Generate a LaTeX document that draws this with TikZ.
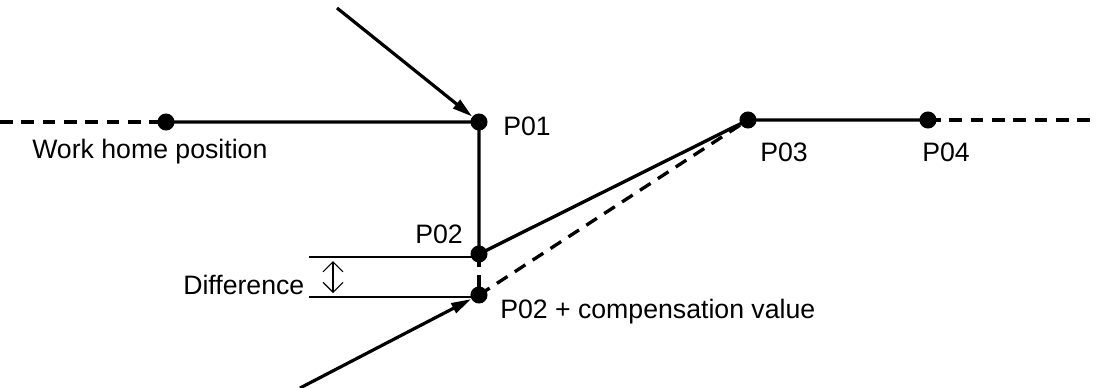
\documentclass[tikz,border=0pt]{standalone}
\usepackage{fontspec}
\setmainfont{Liberation Sans}
\usetikzlibrary{arrows.meta}
\begin{document}
\begin{tikzpicture}[x=0.75pt,y=-0.75pt,
  pt/.style={circle,fill=black,inner sep=0pt,minimum size=12.8pt},
  path/.style={line width=2.5pt},
  dashpath/.style={line width=2.5pt,dash pattern=on 9.5pt off 6.5pt},
  guide/.style={line width=0.9pt},
  lbl/.style={anchor=base west,inner sep=0pt,font=\fontsize{20}{24}\selectfont},
  feed/.style={line width=2.4pt,-{Triangle[length=15pt,width=8pt]}},
  gap/.style={line width=0.8pt,{Straight Barb[length=7.5pt,width=15pt]}-{Straight Barb[length=7.5pt,width=15pt]}}]
\useasboundingbox (0,0) rectangle (1096,387);

% path points
\node[pt] (home) at (166,122) {};
\node[pt] (p01)  at (479,122) {};
\node[pt] (p02)  at (479,254) {};
\node[pt] (p02c) at (479,295) {};
\node[pt] (p03)  at (748,120) {};
\node[pt] (p04)  at (928,120) {};
\coordinate (lft) at (0,122);
\coordinate (rgt) at (1096,120);
\coordinate (in1) at (337,8);
\coordinate (in2) at (300,388);
\coordinate (g1a) at (309,257);
\coordinate (g1b) at (479,257);
\coordinate (g2a) at (309,297);
\coordinate (g2b) at (479,297);
\coordinate (dt) at (333,261);
\coordinate (db) at (333,293);

% nominal path
\draw[dashpath] (lft) -- (home.center);
\draw[path] (home.center) -- (p01.center) -- (p02.center) -- (p03.center) -- (p04.center);
\draw[dashpath] (p04.center) -- (rgt);

% compensated path
\draw[dashpath] (p02.center) -- (p02c.center);
\draw[dashpath] (p02c.center) -- (p03.center);

% approach arrows
\draw[feed] (in1) -- (p01);
\draw[feed] (in2) -- (p02c);

% difference dimension
\draw[guide] (g1a) -- (g1b);
\draw[guide] (g2a) -- (g2b);
\draw[gap] (dt) -- (db);

% labels
\node[lbl] (t01) at (503,135) {P01};
\node[lbl] (t02) at (415,243) {P02};
\node[lbl] (t03) at (760,161) {P03};
\node[lbl] (t04) at (922,161) {P04};
\node[lbl] (thome) at (32,158) {Work home position};
\node[lbl] (tdiff) at (183,294) {Difference};
\node[lbl] (tcomp) at (500,318) {P02 + compensation value};
\end{tikzpicture}
\end{document}
